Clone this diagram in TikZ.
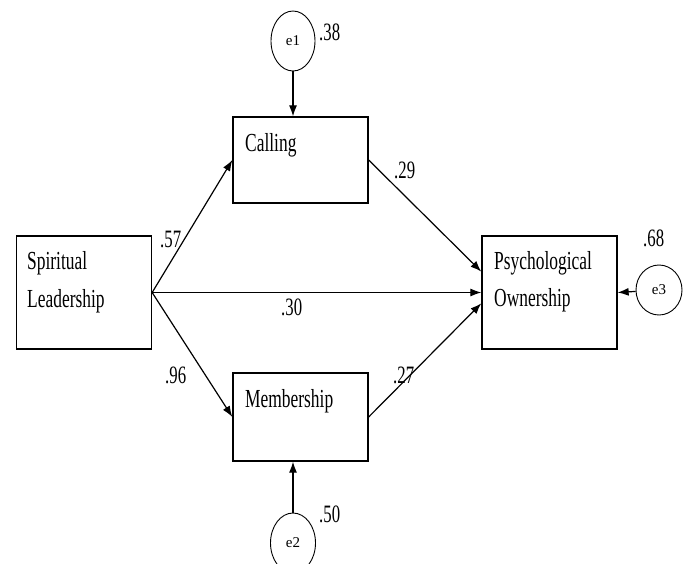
\documentclass[tikz,border=0pt]{standalone}
\usepackage{fontspec}
\setmainfont[FakeStretch=0.67]{Liberation Serif}
\newfontfamily\efont{Liberation Serif}
\usetikzlibrary{arrows.meta,shapes.geometric}
\begin{document}
\begin{tikzpicture}[x=1pt,y=-1pt,
  box/.style={draw,line width=1.3pt,minimum width=135pt,minimum height=113pt,inner sep=0pt},
  err/.style={draw,line width=0.9pt,ellipse,inner sep=0pt},
  lbl/.style={anchor=base west,inner sep=0pt,font=\fontsize{26}{30}\selectfont},
  num/.style={anchor=base west,inner sep=0pt,font=\fontsize{25}{29}\selectfont},
  etxt/.style={font=\efont\fontsize{15}{18}\selectfont},
  path/.style={line width=1.2pt,-{Latex[length=11pt,width=8pt]}}
]
\useasboundingbox (0,0) rectangle (688,563);
% boxes
\node[box] (SL) at (84,292.5) {};
\node[box,minimum width=135pt,minimum height=86pt] (CA) at (300.5,160) {};
\node[box,minimum width=135pt,minimum height=88pt] (ME) at (300.5,417) {};
\node[box] (PO) at (549.5,292.5) {};
% box texts
\node[lbl] (tSL1) at (27,269) {Spiritual};
\node[lbl] (tSL2) at (27,307) {Leadership};
\node[lbl] (tCA) at (245,151) {Calling};
\node[lbl] (tME) at (245,407) {Membership};
\node[lbl] (tPO1) at (494,269) {Psychological};
\node[lbl] (tPO2) at (494,306) {Ownership};
% error terms
\node[err,minimum width=44pt,minimum height=60pt,etxt] (e1) at (293,41) {e1};
\node[err,minimum width=45pt,minimum height=60pt,etxt] (e2) at (293,543) {e2};
\node[err,minimum width=46pt,minimum height=50pt,etxt] (e3) at (659,290) {e3};
% paths
\draw[path] (SL.east) -- (CA.west);
\draw[path] (SL.east) -- (ME.west);
\draw[path] (SL.east) -- (PO.west);
\draw[path] (CA.east) -- (PO.163);
\draw[path] (ME.east) -- (PO.189);
\draw[path] (e1) -- (e1 |- CA.north);
\draw[path] (e2) -- (e2 |- ME.south);
\draw[path] (e3) -- (PO.east);
% coefficients
\node[num] (n38) at (319,40) {.38};
\node[num] (n57) at (160,247) {.57};
\node[num] (n29) at (394,178) {.29};
\node[num] (n30) at (281,315) {.30};
\node[num] (n96) at (165,383) {.96};
\node[num] (n27) at (393,383) {.27};
\node[num] (n68) at (643,246) {.68};
\node[num] (n50) at (319,522) {.50};
\end{tikzpicture}
\end{document}
